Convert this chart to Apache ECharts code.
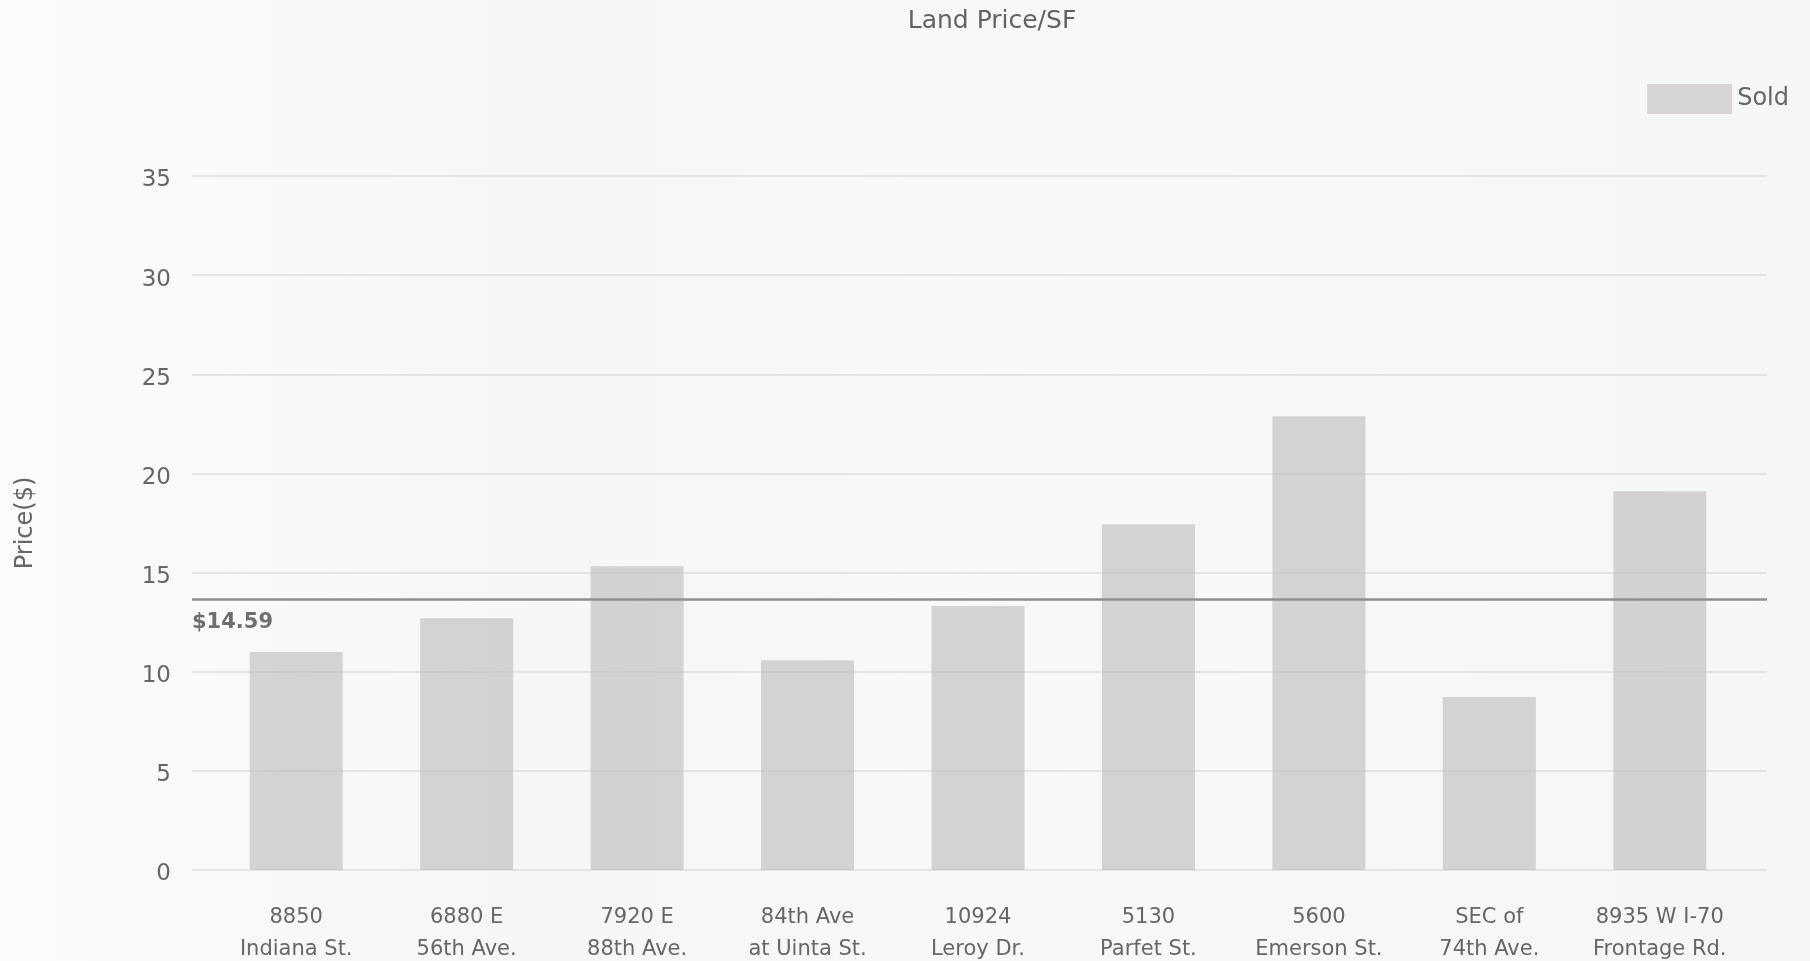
<!DOCTYPE html>
<html>
<head>
<meta charset="utf-8">
<script src="https://cdn.jsdelivr.net/npm/echarts@6/dist/echarts.min.js"></script>
<style>
html,body{margin:0;padding:0;background:#f7f7f7;}
#chart{width:1810px;height:961px;}
</style>
</head>
<body>
<div id="chart"></div>
<script>
const categories = [
  "8850\nIndiana St.",
  "6880 E\n56th Ave.",
  "7920 E\n88th Ave.",
  "84th Ave\nat Uinta St.",
  "10924\nLeroy Dr.",
  "5130\nParfet St.",
  "5600\nEmerson St.",
  "SEC of\n74th Ave.",
  "8935 W I-70\nFrontage Rd."
];
const soldValues = [10.99, 12.70, 15.32, 10.58, 13.31, 17.44, 22.88, 8.72, 19.10];
const averageLineValue = 13.66;
const averageLabel = "$14.59";
const yTicks = { min: 0, max: 35, interval: 5 };

const chart = echarts.init(document.getElementById('chart'), null, {renderer: 'canvas'});
const font = "'DejaVu Sans', 'Open Sans', sans-serif";
chart.setOption({
  backgroundColor: {
    type: 'linear', x: 0, y: 0, x2: 1, y2: 0,
    colorStops: [
      {offset: 0, color: '#fbfbfb'},
      {offset: 0.3, color: '#f6f6f6'},
      {offset: 0.55, color: '#f8f8f8'},
      {offset: 1, color: '#f5f6f6'}
    ]
  },
  animation: false,
  title: {
    text: 'Land Price/SF',
    left: 987,
    textAlign: 'center',
    top: 4,
    textStyle: {fontFamily: font, fontSize: 25, fontWeight: 'normal', color: '#626262'}
  },
  legend: {
    data: [{name: 'Sold', icon: 'rect'}],
    right: 16,
    top: 79,
    itemWidth: 85,
    itemHeight: 30,
    itemGap: 10,
    itemStyle: {color: '#d6d5d3'},
    textStyle: {fontFamily: font, fontSize: 24, color: '#666666'}
  },
  grid: [
    {left: 192, right: 43, top: 176, bottom: 91, outerBoundsMode: 'none', containLabel: false},
    {left: 211, right: 65, top: 176, bottom: 91, outerBoundsMode: 'none', containLabel: false}
  ],
  xAxis: [
    {type: 'value', gridIndex: 0, min: 0, max: 1, show: false},
    {
      type: 'category',
      gridIndex: 1,
      data: categories,
      axisLine: {show: false},
      axisTick: {show: false},
      axisLabel: {
        interval: 0,
        margin: 32,
        lineHeight: 32,
        fontFamily: font,
        fontSize: 21,
        color: '#666666'
      }
    }
  ],
  yAxis: [
    {
      type: 'value',
      gridIndex: 0,
      min: yTicks.min,
      max: yTicks.max,
      interval: yTicks.interval,
      name: 'Price($)',
      nameLocation: 'middle',
      nameGap: 154,
      nameTextStyle: {fontFamily: font, fontSize: 24, color: '#666666'},
      axisLine: {show: false},
      axisTick: {show: false},
      axisLabel: {
        margin: 21,
        formatter: '{v|{value}}',
        rich: {v: {fontFamily: font, fontSize: 23, color: '#666666', padding: [9, 0, 0, 0]}}
      },
      splitLine: {lineStyle: {color: '#dedede', width: 1.5}}
    },
    {
      type: 'value',
      gridIndex: 1,
      min: yTicks.min,
      max: yTicks.max,
      interval: yTicks.interval,
      show: false,
      splitLine: {show: false}
    }
  ],
  series: [
    {
      name: 'Sold',
      type: 'bar',
      xAxisIndex: 1,
      yAxisIndex: 1,
      data: soldValues,
      barWidth: 93,
      itemStyle: {color: 'rgba(188,186,183,0.6)'}
    },
    {
      name: 'average',
      type: 'line',
      xAxisIndex: 0,
      yAxisIndex: 0,
      data: [],
      markLine: {
        silent: true,
        symbol: 'none',
        lineStyle: {color: '#8f8f8f', width: 2.5, type: 'solid'},
        label: {
          position: 'insideStartBottom',
          formatter: averageLabel,
          fontFamily: font,
          fontSize: 21,
          fontWeight: 'bold',
          color: '#6e6e6e',
          distance: [0, 13]
        },
        data: [{yAxis: averageLineValue}]
      }
    }
  ]
});
</script>
</body>
</html>
